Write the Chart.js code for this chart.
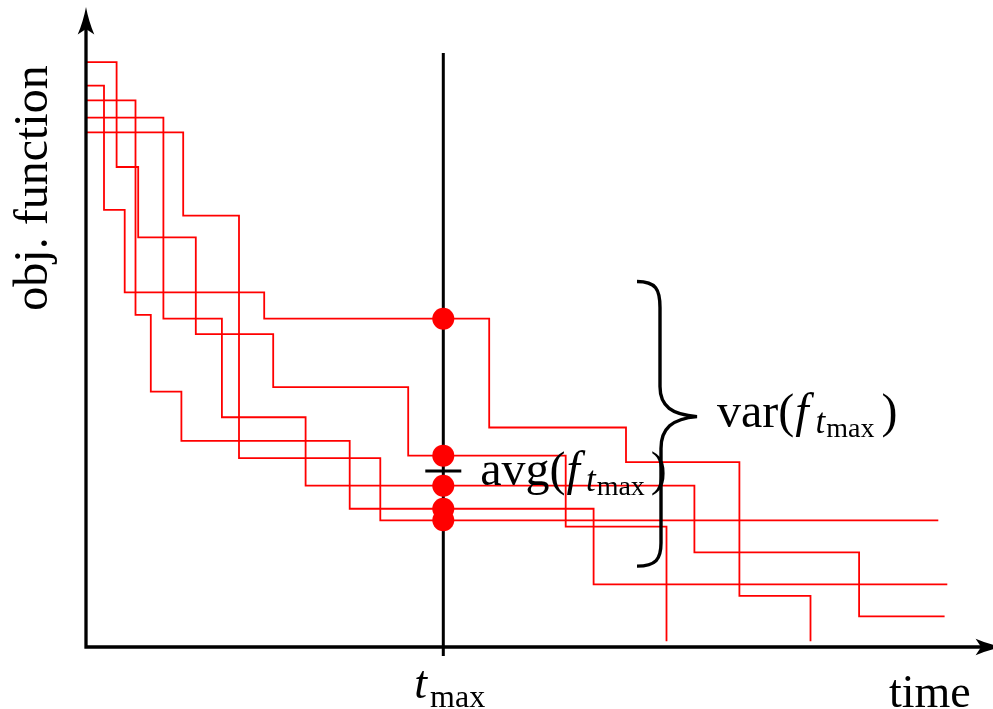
<!DOCTYPE html>
<html>
<head>
<meta charset="utf-8">
<script src="https://cdn.jsdelivr.net/npm/chart.js@4/dist/chart.umd.min.js"></script>
<style>
  html, body { margin: 0; padding: 0; background: #fff; }
  canvas { display: block; }
</style>
</head>
<body>
<canvas id="chart" width="993" height="709"></canvas>
<script>
// Five optimisation runs: time at which the objective improves, and the new objective value.
const runATimes  = [0, 0.34, 0.58, 1.22, 2.08, 3.58, 5.33, 6.45];
const runAValues = [9.14, 7.50, 6.40, 4.89, 4.06, 2.99, 1.88, 0.09];

const runBTimes  = [0, 0.20, 0.43, 1.98, 4.48, 6.00, 7.26, 8.05];
const runBValues = [8.77, 6.83, 5.54, 5.13, 3.43, 2.89, 0.80, 0.09];

const runCTimes  = [0, 0.55, 0.72, 1.06, 2.93, 5.64, 9.57];
const runCValues = [8.54, 5.19, 3.99, 3.22, 2.16, 0.98, 0.98];

const runDTimes  = [0, 0.86, 1.51, 2.44, 6.76, 8.59, 9.54];
const runDValues = [8.27, 5.13, 3.59, 2.52, 1.48, 0.48, 0.48];

const runETimes  = [0, 1.08, 1.70, 3.27, 9.47];
const runEValues = [8.04, 6.74, 2.95, 1.98, 1.98];

// Time budget where every run is cut off, and the mean marker drawn there.
const tMax = 3.97;
const avgAtTMax = 2.75;

// Extent of the vertical t_max line.
const tMaxLineTop = 9.28;
const tMaxLineBottom = -0.14;

// Spread bracket around the values at t_max.
const spreadTop = 5.71;
const spreadBottom = 1.28;
const spreadTip = 3.60;

const runs = [
  [runATimes, runAValues],
  [runBTimes, runBValues],
  [runCTimes, runCValues],
  [runDTimes, runDValues],
  [runETimes, runEValues]
];

// Value a step series holds at time t.
function valueAt(times, values, t) {
  let v = values[0];
  for (let i = 0; i < times.length; i++) {
    if (times[i] <= t) v = values[i];
  }
  return v;
}

const SERIF = '"Liberation Serif", "Times New Roman", serif';

// Draws a row of text pieces side by side (used for sub- and sub-subscripts).
function drawPieces(ctx, x, y, pieces) {
  let cx = x;
  for (const p of pieces) {
    ctx.font = (p.italic ? 'italic ' : '') + p.size + 'px ' + SERIF;
    cx += p.dx || 0;
    ctx.fillText(p.text, cx, y + (p.dy || 0));
    cx += ctx.measureText(p.text).width;
  }
}

function arrowHead(ctx, x, y, angle) {
  const L = 27.5, W = 8.3, N = 5.5;
  ctx.save();
  ctx.translate(x, y);
  ctx.rotate(angle);
  ctx.beginPath();
  ctx.moveTo(0, 0);
  ctx.quadraticCurveTo(-L * 0.55, -W * 0.35, -L, -W);
  ctx.lineTo(-L + N, 0);
  ctx.lineTo(-L, W);
  ctx.quadraticCurveTo(-L * 0.55, W * 0.35, 0, 0);
  ctx.closePath();
  ctx.fillStyle = '#000';
  ctx.fill();
  ctx.restore();
}

const decorations = {
  id: 'decorations',
  afterDatasetsDraw(chart) {
    const ctx = chart.ctx;
    const xs = chart.scales.x, ys = chart.scales.y;
    const X = v => xs.getPixelForValue(v);
    const Y = v => ys.getPixelForValue(v);

    ctx.save();
    ctx.strokeStyle = '#000';
    ctx.fillStyle = '#000';
    ctx.lineCap = 'butt';

    // Axes with arrow heads
    const x0 = X(0), y0 = Y(0);
    const yTip = Y(10.0), xTip = X(10.19);
    ctx.lineWidth = 3.3;
    ctx.beginPath();
    ctx.moveTo(x0, y0 + 1.6);
    ctx.lineTo(x0, yTip + 20);
    ctx.moveTo(x0 - 1.6, y0);
    ctx.lineTo(xTip - 20, y0);
    ctx.stroke();
    arrowHead(ctx, x0, yTip, -Math.PI / 2);
    arrowHead(ctx, xTip, y0, 0);

    // Mean marker at t_max
    const xt = X(tMax), ya = Y(avgAtTMax);
    ctx.lineWidth = 3;
    ctx.beginPath();
    ctx.moveTo(xt - 18, ya);
    ctx.lineTo(xt + 18, ya);
    ctx.stroke();

    // Curly bracket showing the spread
    const bt = Y(spreadTop), bb = Y(spreadBottom), bm = Y(spreadTip);
    const bx = 660;
    const bl = bx - 23, br = bx + 37;
    ctx.lineWidth = 3.4;
    ctx.lineJoin = 'miter';
    ctx.beginPath();
    ctx.moveTo(bl, bt);
    ctx.bezierCurveTo(bx - 4, bt, bx, bt + 8, bx, bt + 26);
    ctx.lineTo(bx, bm - 30);
    ctx.bezierCurveTo(bx, bm - 10, bx + 12, bm - 2, br, bm);
    ctx.bezierCurveTo(bx + 12, bm + 2, bx + 1, bm + 12, bx + 1, bm + 32);
    ctx.lineTo(bx + 1, bb - 22);
    ctx.bezierCurveTo(bx + 1, bb - 6, bx - 4, bb + 1, bl, bb + 1);
    ctx.stroke();

    // Labels
    ctx.textAlign = 'left';
    ctx.textBaseline = 'alphabetic';

    drawPieces(ctx, br + 20, bm + 10, [
      { text: 'var(', size: 48 },
      { text: 'f', size: 48, italic: true, dx: 1 },
      { text: 't', size: 35, italic: true, dy: 6, dx: 7 },
      { text: 'max', size: 28, dy: 10, dx: 1 },
      { text: ')', size: 48, dx: 7 }
    ]);

    drawPieces(ctx, xt + 37, ya + 14, [
      { text: 'avg(', size: 48 },
      { text: 'f', size: 48, italic: true, dx: 1 },
      { text: 't', size: 35, italic: true, dy: 6, dx: 6 },
      { text: 'max', size: 28, dy: 10, dx: 1 },
      { text: ')', size: 48, dx: 6 }
    ]);

    drawPieces(ctx, xt - 29, y0 + 51, [
      { text: 't', size: 46, italic: true },
      { text: 'max', size: 32, dy: 9, dx: 3 }
    ]);

    ctx.font = '46px ' + SERIF;
    ctx.fillText('time', 889, y0 + 60);

    ctx.save();
    ctx.translate(47, 188);
    ctx.rotate(-Math.PI / 2);
    ctx.textAlign = 'center';
    ctx.font = '48px ' + SERIF;
    ctx.fillText('obj. function', 0, 0);
    ctx.restore();

    ctx.restore();
  }
};

const runDatasets = runs.map(([times, values]) => ({
  data: times.map((t, i) => ({ x: t, y: values[i] })),
  borderColor: 'rgb(255,0,0)',
  borderWidth: 1.8,
  pointRadius: 0,
  stepped: 'before',
  tension: 0,
  order: 3
}));

const datasets = [
  {
    data: runs.map(([times, values]) => ({ x: tMax, y: valueAt(times, values, tMax) })),
    showLine: false,
    pointRadius: 11,
    pointHoverRadius: 11,
    pointBackgroundColor: 'rgb(255,0,0)',
    pointBorderWidth: 0,
    order: 1
  },
  {
    data: [{ x: tMax, y: tMaxLineTop }, { x: tMax, y: tMaxLineBottom }],
    borderColor: '#000',
    borderWidth: 3,
    pointRadius: 0,
    clip: false,
    order: 2
  },
  ...runDatasets
];

new Chart(document.getElementById('chart'), {
  type: 'line',
  data: { datasets },
  options: {
    responsive: false,
    animation: false,
    events: [],
    layout: { autoPadding: false, padding: { left: 86, right: 7, top: 7, bottom: 62 } },
    scales: {
      x: { type: 'linear', min: 0, max: 10, display: false },
      y: { type: 'linear', min: 0, max: 10, display: false }
    },
    plugins: {
      legend: { display: false },
      tooltip: { enabled: false }
    }
  },
  plugins: [decorations]
});
</script>
</body>
</html>
